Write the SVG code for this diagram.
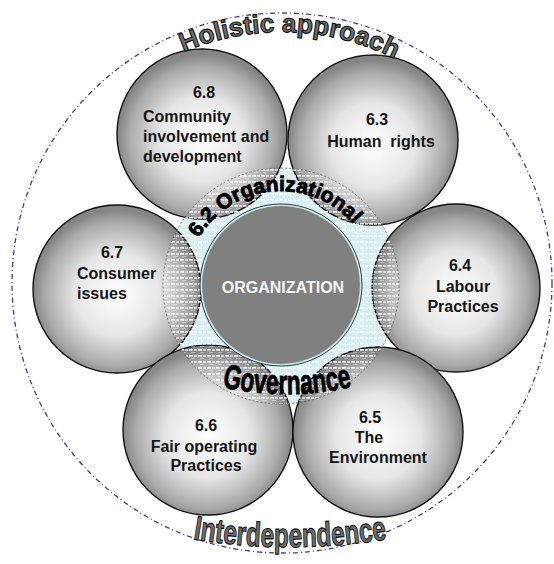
<svg xmlns="http://www.w3.org/2000/svg" width="554" height="564" viewBox="0 0 554 564">
<style>
.petal{stroke:#111;stroke-width:1.4;fill:url(#petalGrad)}
.pt{font-family:"Liberation Sans",Arial,sans-serif;font-weight:bold;font-size:16px;fill:#151515}
.mid{text-anchor:middle}
.outline{font-family:"Liberation Sans",Arial,sans-serif;font-weight:bold;fill:#6e6e6e;stroke:#111;stroke-width:1.1}
.ring{font-family:"Liberation Sans",Arial,sans-serif;font-weight:bold;fill:#000;stroke:#000;stroke-width:0.9}
</style>
<defs>
<radialGradient id="petalGrad" cx="50%" cy="53%" r="50%">
<stop offset="0" stop-color="#ffffff"/>
<stop offset="0.5" stop-color="#e6e6e6"/>
<stop offset="0.85" stop-color="#ababab"/>
<stop offset="1" stop-color="#858585"/>
</radialGradient>
<pattern id="hatch" width="9" height="6" patternUnits="userSpaceOnUse">
<rect x="0" y="1" width="4" height="1.6" fill="#fff"/>
<rect x="5" y="1.4" width="3" height="1.2" fill="#fff"/>
<rect x="2" y="4" width="4" height="0.8" fill="#fff" opacity="0.5"/>
</pattern>
<path id="arcTop" d="M 31,283 A 251,251 0 0 1 533,283"/>
<path id="arcBottom" d="M 170,535 A 600,600 0 0 0 410,535"/>
<path id="arcOrg" d="M 186,286 A 95,95 0 0 1 376,286"/>
<path id="arcGov" d="M 187,377 A 300,300 0 0 0 387,377"/>
</defs>
<rect width="554" height="564" fill="#fff"/>
<g id="outer-circle">
<circle cx="282" cy="283" r="270" fill="none" stroke="#3b3b8f" stroke-width="1.3" stroke-dasharray="5 3 1 3"/>
</g>
<g id="ring-background">
<circle cx="281" cy="286" r="118" fill="#d6eef2"/>
</g>
<g id="connectors"></g>
<g id="node-6-8">
<circle class="petal" cx="202" cy="134" r="85"/>
<text class="pt mid" x="204" y="98">6.8</text>
<text class="pt" x="143" y="122">Community</text>
<text class="pt" x="143" y="142">involvement and</text>
<text class="pt" x="143" y="162">development</text>
</g>
<g id="node-6-3">
<circle class="petal" cx="373" cy="140" r="85"/>
<text class="pt mid" x="377" y="125">6.3</text>
<text class="pt mid" x="381" y="147" xml:space="preserve">Human  rights</text>
</g>
<g id="node-6-4">
<circle class="petal" cx="456" cy="288" r="84"/>
<text class="pt mid" x="460" y="271">6.4</text>
<text class="pt mid" x="463" y="292">Labour</text>
<text class="pt mid" x="463" y="312">Practices</text>
</g>
<g id="node-6-7">
<circle class="petal" cx="117" cy="289" r="84"/>
<text class="pt mid" x="112" y="258">6.7</text>
<text class="pt" x="77" y="279">Consumer</text>
<text class="pt" x="77" y="299">issues</text>
</g>
<g id="node-6-6">
<circle class="petal" cx="208" cy="430" r="85"/>
<text class="pt mid" x="206" y="431">6.6</text>
<text class="pt mid" x="204" y="452">Fair operating</text>
<text class="pt mid" x="206" y="471">Practices</text>
</g>
<g id="node-6-5">
<circle class="petal" cx="378" cy="432" r="85"/>
<text class="pt mid" x="370" y="423">6.5</text>
<text class="pt mid" x="369" y="443">The</text>
<text class="pt mid" x="378" y="463">Environment</text>
</g>
<g id="node-6-2-ring">
<circle cx="281" cy="286" r="118" fill="url(#hatch)" stroke="#555" stroke-width="0.8" stroke-dasharray="2 2"/>
<text class="ring" font-size="21"><textPath href="#arcOrg" startOffset="50">6.2 Organizational</textPath></text>
<text class="ring" font-size="34"><textPath href="#arcGov" startOffset="50%" text-anchor="middle" textLength="131" lengthAdjust="spacingAndGlyphs">Governance</textPath></text>
</g>
<g id="node-organization">
<circle cx="281" cy="285" r="80" fill="#808080" stroke="#c8ecef" stroke-width="2.2"/>
<circle cx="281" cy="285" r="81" fill="none" stroke="#222" stroke-width="0.9"/>
<text x="283" y="293" text-anchor="middle" font-family="Liberation Sans, Arial, sans-serif" font-weight="bold" font-size="16" fill="#f4f4f4">ORGANIZATION</text>
</g>
<g id="label-holistic">
<text class="outline" font-size="26"><textPath href="#arcTop" startOffset="51%" text-anchor="middle">Holistic approach</textPath></text>
</g>
<g id="label-interdependence">
<text class="outline" font-size="34"><textPath href="#arcBottom" startOffset="50%" text-anchor="middle" textLength="195" lengthAdjust="spacingAndGlyphs">Interdependence</textPath></text>
</g>
</svg>
